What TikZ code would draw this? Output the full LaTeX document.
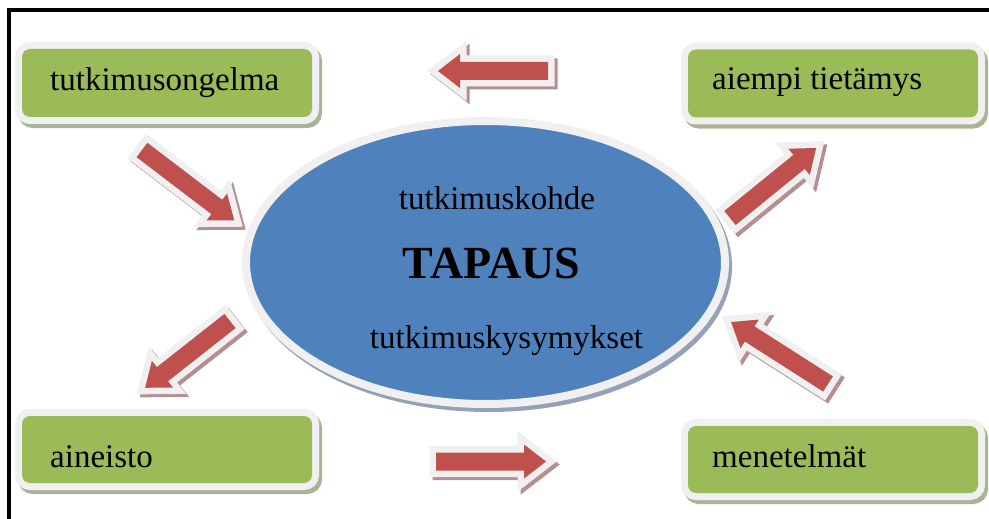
\documentclass[tikz,border=0pt]{standalone}
\usepackage{fontspec}
\setmainfont{Liberation Serif}
\definecolor{boxgreen}{HTML}{9BBB59}
\definecolor{ellblue}{HTML}{4F81BD}
\definecolor{arrred}{HTML}{C0504D}
\definecolor{ring}{HTML}{F0F0F0}
\definecolor{boxshade}{HTML}{A9B496}
\definecolor{ellshade}{HTML}{93A2B9}
\definecolor{arrshade}{HTML}{B68E8E}
\tikzset{
  frameline/.style={line width=3.5, draw=black},
  greenbox/.style={rectangle, rounded corners=8, fill=boxgreen, inner sep=0,
    minimum width=290, minimum height=68,
    preaction={draw=boxshade, fill=boxshade, line width=14, transform canvas={xshift=3pt,yshift=-4pt}},
    preaction={draw=ring, line width=14}},
  boxtext/.style={anchor=base west, inner sep=0, font=\fontsize{33}{40}\selectfont},
  casetext/.style={anchor=base, inner sep=0, font=\fontsize{33}{40}\selectfont},
  casetitle/.style={anchor=base, inner sep=0, font=\fontsize{46}{52}\selectfont\bfseries},
  caseellipse/.style={ellipse, fill=ellblue, draw=ring, line width=8, inner sep=0,
    minimum width=479, minimum height=283,
    preaction={draw=ellshade, fill=ellshade, line width=8, transform canvas={xshift=3pt,yshift=-4pt}}},
  arrowshade/.style={draw=arrshade, fill=arrshade, line width=13, line join=miter},
  arrowring/.style={draw=ring, fill=ring, line width=13, line join=miter},
  arrowbody/.style={fill=arrred},
  pics/blockarrow/.style={code={
    \path[arrowshade, transform canvas={xshift=3pt,yshift=-3pt}]
      (0,-9) -- ({#1-22},-9) -- ({#1-22},-17) -- (#1,0) -- ({#1-22},17) -- ({#1-22},9) -- (0,9) -- cycle;
    \path[arrowring]
      (0,-9) -- ({#1-22},-9) -- ({#1-22},-17) -- (#1,0) -- ({#1-22},17) -- ({#1-22},9) -- (0,9) -- cycle;
    \path[arrowbody]
      (0,-9) -- ({#1-22},-9) -- ({#1-22},-17) -- (#1,0) -- ({#1-22},17) -- ({#1-22},9) -- (0,9) -- cycle;
  }}
}
\usetikzlibrary{shapes.geometric}
\begin{document}
\begin{tikzpicture}[x=1pt, y=-1pt]
\useasboundingbox (0,0) rectangle (989,519);
% frame
\coordinate (fr) at (989,10);
\coordinate (fc) at (9,10);
\coordinate (fb) at (9,519);
\draw[frameline] (fr) -- (fc) -- (fb);
% boxes
\node[greenbox] (b1) at (167,83) {};
\node[greenbox] (b2) at (833,83.5) {};
\node[greenbox, minimum height=67] (b3) at (167,449.5) {};
\node[greenbox, minimum height=67] (b4) at (833,459.5) {};
\node[boxtext] (t1) at (50,91) {tutkimusongelma};
\node[boxtext] (t2) at (712,90) {aiempi tietämys};
\node[boxtext] (t3) at (50,467) {aineisto};
\node[boxtext] (t4) at (712,467) {menetelmät};
% ellipse
\node[caseellipse] (case) at (485.5,262.5) {};
\node[casetext] (c1) at (497,209) {tutkimuskohde};
\node[casetitle] (c2) at (491.5,278) {TAPAUS};
\node[casetext] (c3) at (506.5,348) {tutkimuskysymykset};
% arrows
\coordinate (a1) at (548,71);
\coordinate (a2) at (436,461.5);
\coordinate (a3) at (142,150);
\coordinate (a4) at (230,321);
\coordinate (a5) at (730,218);
\coordinate (a6) at (828,384);
\pic[rotate=180] at (a1) {blockarrow=110};
\pic[rotate=0] at (a2) {blockarrow=110};
\pic[rotate=-37.3] at (a3) {blockarrow=116};
\pic[rotate=-141.8] at (a4) {blockarrow=108};
\pic[rotate=39.1] at (a5) {blockarrow=111};
\pic[rotate=147.4] at (a6) {blockarrow=115};
\end{tikzpicture}
\end{document}
